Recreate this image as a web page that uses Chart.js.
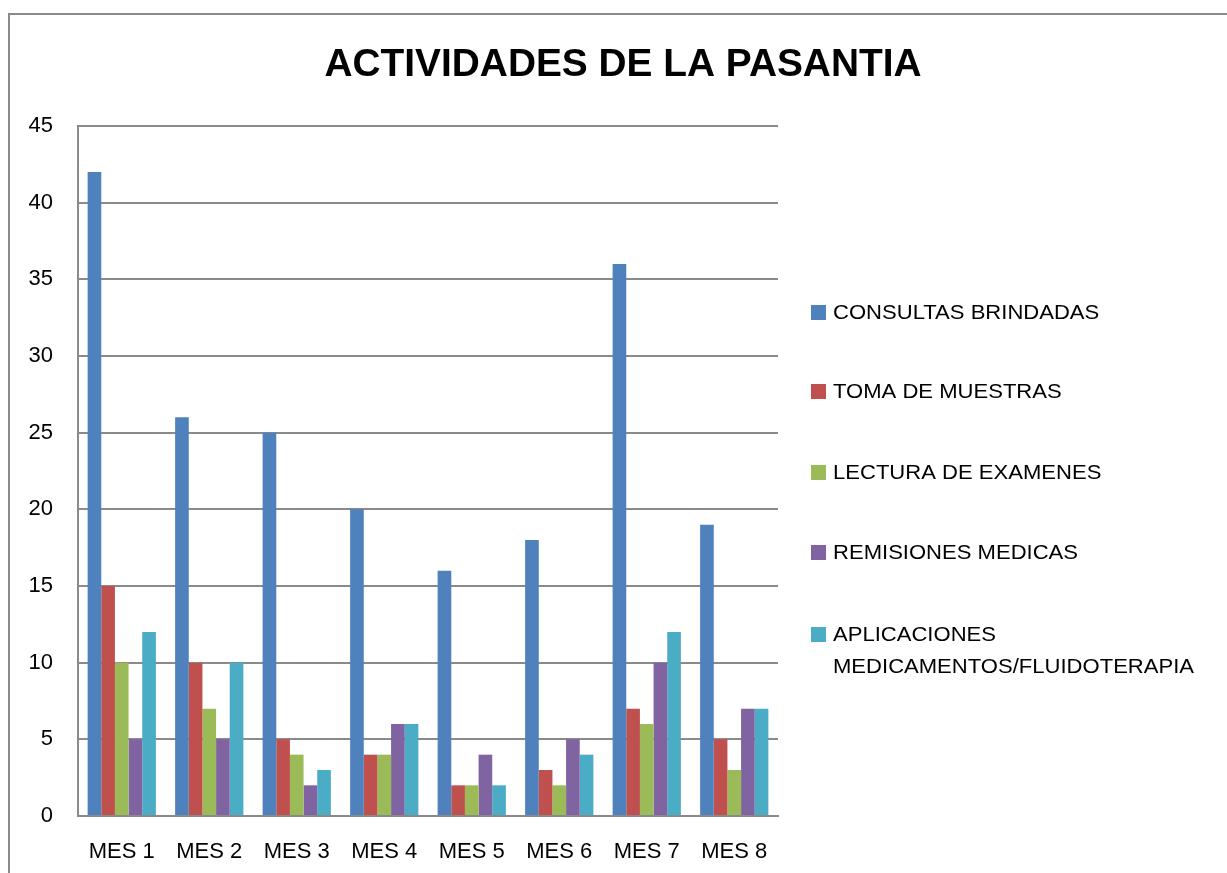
<!DOCTYPE html>
<html>
<head>
<meta charset="utf-8">
<script src="https://cdn.jsdelivr.net/npm/chart.js@4.4.1/dist/chart.umd.min.js"></script>
<style>
  html, body { margin: 0; padding: 0; background: #fff; }
  #wrap { width: 1227px; height: 873px; }
</style>
</head>
<body>
<div id="wrap"><canvas id="myChart" width="1227" height="873"></canvas></div>
<script>
// data
let meses = ['MES 1','MES 2','MES 3','MES 4','MES 5','MES 6','MES 7','MES 8'];
let consultas = [42, 26, 25, 20, 16, 18, 36, 19];
let muestras = [15, 10, 5, 4, 2, 3, 7, 5];
let lectura = [10, 7, 4, 4, 2, 2, 6, 3];
let remisiones = [5, 5, 2, 6, 4, 5, 10, 7];
let aplicaciones = [12, 10, 3, 6, 2, 4, 12, 7];
let yTicks = [0, 5, 10, 15, 20, 25, 30, 35, 40, 45];

let titulo = 'ACTIVIDADES DE LA PASANTIA';
let nombres = [
  'CONSULTAS BRINDADAS',
  'TOMA DE MUESTRAS',
  'LECTURA DE EXAMENES',
  'REMISIONES MEDICAS',
  ['APLICACIONES', 'MEDICAMENTOS/FLUIDOTERAPIA']
];
let colores = ['#4F81BD', '#C0504D', '#9BBB59', '#8064A2', '#4BACC6'];

let fuente = "'Liberation Sans', Arial, sans-serif";

// border, title and legend drawn on the canvas
let extras = {
  id: 'extras',
  afterDraw(chart) {
    let ctx = chart.ctx;
    let area = chart.chartArea;
    ctx.save();
    ctx.strokeStyle = '#8a8a8a';
    ctx.lineWidth = 2;
    ctx.strokeRect(9, 14, 1400, 1000);

    ctx.fillStyle = '#000';
    ctx.font = "bold 39px " + fuente;
    ctx.textAlign = 'center';
    ctx.textBaseline = 'middle';
    let w = ctx.measureText(titulo).width;
    let sx = 597 / w;
    ctx.save();
    ctx.translate(623, 65);
    ctx.scale(sx, 1);
    ctx.fillText(titulo, 0, 0);
    ctx.restore();

    ctx.font = "21px " + fuente;
    ctx.textAlign = 'left';
    let ys = [312, 391, 472, 552, 634];
    chart.data.datasets.forEach((ds, i) => {
      let y = ys[i];
      ctx.fillStyle = ds.backgroundColor;
      ctx.fillRect(area.right + 33, y - 7, 15, 15);
      ctx.fillStyle = '#000';
      let lines = Array.isArray(nombres[i]) ? nombres[i] : [nombres[i]];
      lines.forEach((t, j) => {
        ctx.save();
        ctx.translate(area.right + 55, y + 1 + j * 32);
        ctx.scale(1.05, 1);
        ctx.fillText(t, 0, 0);
        ctx.restore();
      });
    });
    ctx.restore();
  }
};

let barChart = new Chart(document.getElementById('myChart').getContext('2d'), {
  type: 'bar',
  data: {
    labels: meses,
    datasets: [
      { label: 'CONSULTAS BRINDADAS', data: consultas, backgroundColor: colores[0] },
      { label: 'TOMA DE MUESTRAS', data: muestras, backgroundColor: colores[1] },
      { label: 'LECTURA DE EXAMENES', data: lectura, backgroundColor: colores[2] },
      { label: 'REMISIONES MEDICAS', data: remisiones, backgroundColor: colores[3] },
      { label: 'APLICACIONES MEDICAMENTOS/FLUIDOTERAPIA', data: aplicaciones, backgroundColor: colores[4] }
    ]
  },
  options: {
    responsive: false,
    animation: false,
    layout: { padding: { left: 0, top: 126, right: 449, bottom: 0 } },
    datasets: { bar: { categoryPercentage: 0.78, barPercentage: 1 } },
    plugins: {
      legend: { display: false },
      title: { display: false },
      tooltip: { enabled: false }
    },
    scales: {
      x: {
        grid: { display: false, drawTicks: false },
        border: { display: true, color: '#8a8a8a', width: 2 },
        ticks: { color: '#000', font: { family: fuente, size: 22 }, padding: 23, maxRotation: 0 },
        afterFit(scale) { scale.height = 57; }
      },
      y: {
        min: 0,
        max: 45,
        afterBuildTicks(scale) { scale.ticks = yTicks.map(v => ({ value: v })); },
        grid: { color: '#8a8a8a', lineWidth: 2, drawTicks: false },
        border: { display: true, color: '#8a8a8a', width: 2 },
        ticks: { color: '#000', font: { family: fuente, size: 22 }, padding: 25 },
        afterFit(scale) { scale.width = 78; }
      }
    }
  },
  plugins: [extras]
});
</script>
</body>
</html>
